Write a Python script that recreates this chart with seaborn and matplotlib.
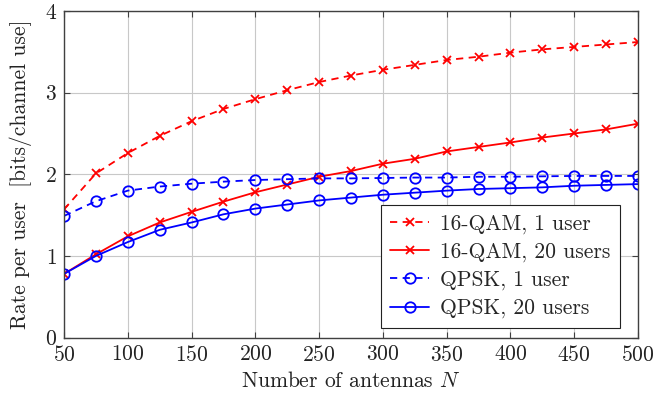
import matplotlib
matplotlib.use("Agg")
import matplotlib.pyplot as plt
import seaborn as sns
import pandas as pd

antennas = [50, 75, 100, 125, 150, 175, 200, 225, 250, 275, 300, 325, 350, 375, 400, 425, 450, 475, 500]
qam16_1user = [1.57, 2.01, 2.26, 2.47, 2.65, 2.80, 2.92, 3.03, 3.13, 3.21, 3.28, 3.34, 3.40, 3.44, 3.49, 3.53, 3.56, 3.59, 3.62]
qam16_20users = [0.78, 1.02, 1.24, 1.41, 1.54, 1.665, 1.78, 1.875, 1.97, 2.04, 2.13, 2.19, 2.28, 2.335, 2.39, 2.45, 2.50, 2.55, 2.62]
qpsk_1user = [1.49, 1.67, 1.80, 1.85, 1.885, 1.91, 1.93, 1.94, 1.95, 1.95, 1.955, 1.96, 1.96, 1.97, 1.97, 1.975, 1.98, 1.98, 1.98]
qpsk_20users = [0.78, 1.0, 1.17, 1.32, 1.41, 1.51, 1.58, 1.63, 1.68, 1.715, 1.75, 1.775, 1.80, 1.82, 1.83, 1.84, 1.86, 1.87, 1.88]
labels = ["16-QAM, 1 user", "16-QAM, 20 users", "QPSK, 1 user", "QPSK, 20 users"]

sns.set_theme(style="whitegrid")
plt.rcParams["font.family"] = ["cmr10", "DejaVu Serif"]
plt.rcParams["mathtext.fontset"] = "cm"
plt.rcParams["axes.formatter.use_mathtext"] = True

fig = plt.figure(figsize=(6.54, 4.03), dpi=100)
ax = fig.add_axes([64/654, 1 - 337.6/403, (638-64)/654, (337.6-11)/403])

series = [
    (labels[0], qam16_1user, "red", (0, (4, 3)), "x", "red"),
    (labels[1], qam16_20users, "red", "-", "x", "red"),
    (labels[2], qpsk_1user, "blue", (0, (4, 3)), "o", "none"),
    (labels[3], qpsk_20users, "blue", "-", "o", "none"),
]
for lab, vals, col, ls, mk, mfc in series:
    df = pd.DataFrame({"N": antennas, "rate": vals})
    ms = 5.5 if mk == "x" else 7.5
    sns.lineplot(data=df, x="N", y="rate", ax=ax, color=col, linestyle=ls,
                 marker=mk, markersize=ms, markerfacecolor=mfc,
                 markeredgecolor=col, markeredgewidth=1.3, linewidth=1.3,
                 label=lab)

ax.set_xlim(50, 500)
ax.set_ylim(0, 4)
ax.set_xticks(range(50, 501, 50))
ax.set_yticks([0, 1, 2, 3, 4])
ax.grid(True, color="#c8c8c8", linewidth=0.8)
for s in ax.spines.values():
    s.set_color("#404040")
    s.set_linewidth(1.0)
ax.tick_params(direction="in", length=4, width=0.8, colors="#404040",
               top=True, right=True, bottom=True, left=True,
               labelsize=15.5, labelcolor="#222222", pad=5)
ax.set_xlabel(r"Number of antennas $N$", fontsize=15.5, color="#222222", labelpad=5)
ax.set_ylabel("Rate per user  [bits/channel use]", fontsize=15.5, color="#222222", labelpad=9)

leg = ax.legend(loc="lower right", bbox_to_anchor=(1 - 18/574, 9.5/326.6),
                fontsize=15.5, frameon=True, fancybox=False, framealpha=1,
                edgecolor="#222222", handlelength=1.8, borderpad=0.45,
                labelspacing=0.38, handletextpad=0.5, borderaxespad=0)
leg.get_frame().set_linewidth(0.8)

fig.savefig("out.png", dpi=100)
